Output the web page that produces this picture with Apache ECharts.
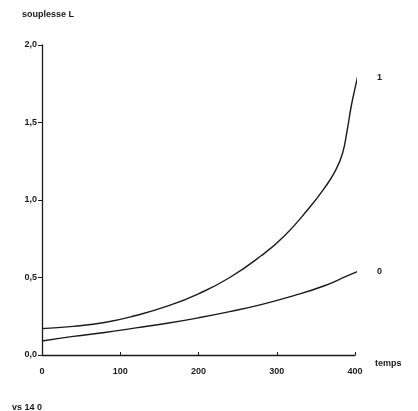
<!DOCTYPE html>
<html><head><meta charset="utf-8">
<script src="https://cdn.jsdelivr.net/npm/echarts@6/dist/echarts.min.js"></script>
<style>html,body{margin:0;padding:0;background:#fff}#c{width:418px;height:411px}</style>
</head><body><div id="c"></div>
<script>
const xTicks = [0, 100, 200, 300, 400];
const yTicks = [0, 0.5, 1.0, 1.5, 2.0];
const curve1X = [0, 40, 80, 120, 160, 200, 240, 280, 310, 340, 360, 375, 384, 390, 395, 400, 404];
const curve1Y = [0.17, 0.185, 0.21, 0.255, 0.315, 0.395, 0.50, 0.64, 0.77, 0.94, 1.07, 1.19, 1.30, 1.45, 1.60, 1.72, 1.81];
const curve0X = [0, 40, 80, 120, 160, 200, 240, 280, 320, 360, 390, 404];
const curve0Y = [0.09, 0.12, 0.145, 0.175, 0.205, 0.24, 0.28, 0.325, 0.38, 0.445, 0.51, 0.54];
const seriesNames = ['1', '0'];

const font = 'Liberation Sans, Arial, sans-serif';
const chart = echarts.init(document.getElementById('c'));
const ink = '#1a1a1a';
function pairs(xs, ys){ return xs.map((x,i)=>[x, ys[i]]); }
chart.setOption({
  animation: false,
  backgroundColor: '#fff',
  grid: {left: 42, right: 63, top: 45, bottom: 56},
  title: [
    {text: 'souplesse L', left: 17, top: 5, textStyle: {fontFamily: font, fontSize: 9, fontWeight: 'bold', color: ink}},
    {text: 'vs 14 0', left: 7, top: 398, textStyle: {fontFamily: font, fontSize: 9, fontWeight: 'bold', color: ink}}
  ],
  xAxis: {
    type: 'value', min: 0, max: 400, interval: 100,
    name: 'temps', nameLocation: 'end', nameGap: 20,
    nameTextStyle: {fontFamily: font, fontSize: 9, fontWeight: 'bold', color: ink, verticalAlign: 'top', lineHeight: 18},
    axisLine: {lineStyle: {color: ink, width: 1.3}},
    axisTick: {show: true, length: 3, inside: true, lineStyle: {color: ink}},
    axisLabel: {fontFamily: font, fontSize: 9, fontWeight: 'bold', color: ink, margin: 12,
      formatter: v => xTicks.includes(v) ? String(v) : ''},
    splitLine: {show: false}
  },
  yAxis: {
    type: 'value', min: 0, max: 2, interval: 0.5,
    axisLine: {show: true, lineStyle: {color: ink, width: 1.3}},
    axisTick: {show: true, length: 4, lineStyle: {color: ink}},
    axisLabel: {fontFamily: font, fontSize: 9, fontWeight: 'bold', color: ink, margin: 5,
      formatter: v => yTicks.includes(v) ? v.toFixed(1).replace('.', ',') : ''},
    splitLine: {show: false}
  },
  series: [
    {name: seriesNames[0], type: 'line', smooth: 0.5, symbol: 'none', clip: false,
     data: pairs(curve1X, curve1Y), lineStyle: {color: ink, width: 1.4},
     endLabel: {show: true, formatter: '{a}', offset: [12, -2], fontFamily: font, fontSize: 9, fontWeight: 'bold', color: ink}},
    {name: seriesNames[1], type: 'line', smooth: 0.5, symbol: 'none', clip: false,
     data: pairs(curve0X, curve0Y), lineStyle: {color: ink, width: 1.4},
     endLabel: {show: true, formatter: '{a}', offset: [12, 0], fontFamily: font, fontSize: 9, fontWeight: 'bold', color: ink}}
  ]
});
</script></body></html>
